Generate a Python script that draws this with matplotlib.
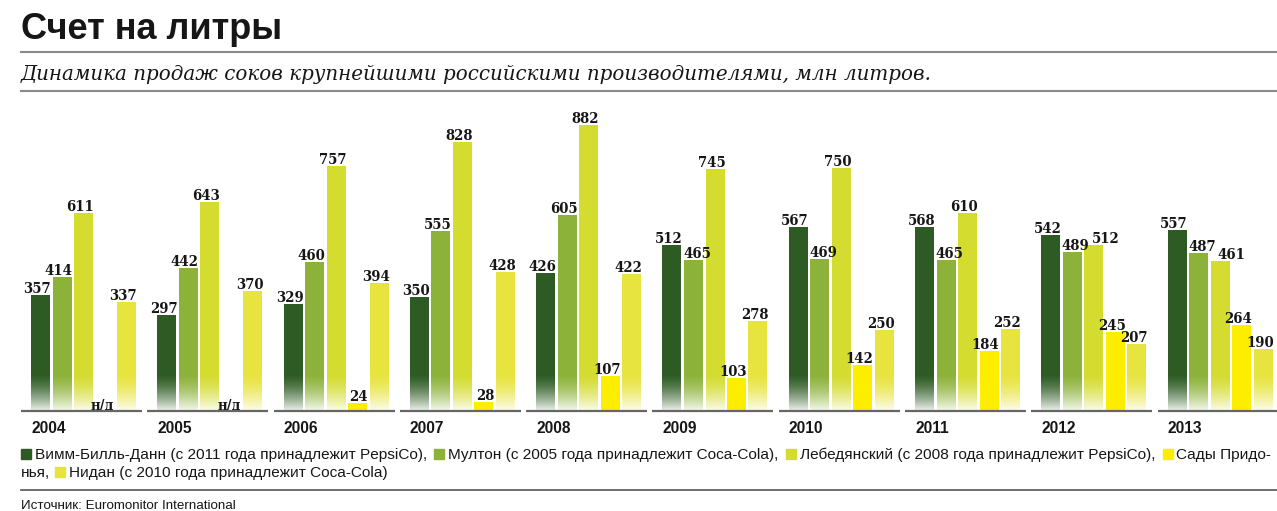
import numpy as np
import matplotlib
matplotlib.use("Agg")
import matplotlib.pyplot as plt
from matplotlib.patches import Rectangle

# данные (млн литров)
years = ['2004', '2005', '2006', '2007', '2008', '2009', '2010', '2011', '2012', '2013']
wbd = [357, 297, 329, 350, 426, 512, 567, 568, 542, 557]
multon = [414, 442, 460, 555, 605, 465, 469, 465, 489, 487]
lebed = [611, 643, 757, 828, 882, 745, 750, 610, 512, 461]
sady = [None, None, 24, 28, 107, 103, 142, 184, 245, 264]
nidan = [337, 370, 394, 428, 422, 278, 250, 252, 207, 190]

series = [wbd, multon, lebed, sady, nidan]
colors = ['#2e5b24', '#8db23a', '#d4dc2f', '#fdee00', '#e8e43f']
fade = [True, True, True, False, True]
legend_names = ['Вимм-Билль-Данн (с 2011 года принадлежит PepsiCo), ',
                'Мултон (с 2005 года принадлежит Coca-Cola), ',
                'Лебедянский (с 2008 года принадлежит PepsiCo), ',
                'Сады Придо-',
                'Нидан (с 2010 года принадлежит Coca-Cola)']

W, H = 1277, 511
fig = plt.figure(figsize=(W / 100, H / 100), dpi=100)
renderer = fig.canvas.get_renderer()

# пиксели -> единицы осей
group_px = 126.3          # шаг между годами
py = 0.3243               # пикселей на 1 млн литров
bar_w = 19 / group_px
bar_step = 21.5 / group_px
base_y = 411              # базовая линия (от верха картинки)
left_px = 21

ax_h_px = 310
ax = fig.add_axes([left_px / W, (H - base_y) / H, (W - left_px) / W, ax_h_px / H])
x0 = (left_px - 31) / group_px
ax.set_xlim(x0, x0 + (W - left_px) / group_px)
ax.set_ylim(0, ax_h_px / py)
ax.axis('off')

fade_h = 38 / py
grad = np.linspace(0, 1, 64)
alpha = 0.92 * (1 - grad) ** 1.5
white = np.ones((64, 1, 4))
white[:, 0, 3] = alpha

val_font = dict(family='DejaVu Serif', fontstretch='condensed', fontweight='bold',
                fontsize=10.6, color='#161616')

for i, year in enumerate(years):
    prev_bb = None
    for k, vals in enumerate(series):
        left = i + k * bar_step
        v = vals[i]
        if v is None:
            ax.text(left + bar_w, 1.5 / py, 'н/д', ha='right', va='baseline', **val_font)
            prev_bb = None
            continue
        ax.bar(left, v, width=bar_w, align='edge', color=colors[k], zorder=2)
        if fade[k]:
            ax.imshow(white, extent=(left, left + bar_w, 0, min(fade_h, v)),
                      origin='lower', aspect='auto', zorder=3, interpolation='bilinear')
        # подпись: по правому краю столбца, но не поверх более высокого зелёного соседа
        prev_v = series[k - 1][i] if k > 0 else None
        if k in (1, 2) and prev_v is not None and prev_v > v + 15:
            t = ax.text(left - 1 / group_px, v + 2 / py, str(v), ha='left', va='baseline',
                        zorder=4, **val_font)
        else:
            t = ax.text(left + bar_w + 1 / group_px, v + 2 / py, str(v), ha='right', va='baseline',
                        zorder=4, **val_font)
        bb = t.get_window_extent(renderer=renderer)
        if (k in (1, 2) and prev_bb is not None and bb.x0 < prev_bb.x1 + 2
                and bb.y0 < prev_bb.y1 and bb.y1 > prev_bb.y0):
            shift = (prev_bb.x1 + 2 - bb.x0) / group_px
            px_, py_ = t.get_position()
            t.set_position((px_ + shift, py_))
            bb = t.get_window_extent(renderer=renderer)
        prev_bb = bb
    # базовая линия группы
    ax.plot([i - 10 / group_px, i + 111 / group_px], [0, 0], color='#666666', lw=1.6,
            solid_capstyle='butt', zorder=5, clip_on=False)
    ax.text(i, -17 / py, year, ha='left', va='center', family='Liberation Sans',
            fontweight='bold', fontsize=11.2, color='#161616', clip_on=False)

ax.set_xlim(x0, x0 + (W - left_px) / group_px)
ax.set_ylim(0, ax_h_px / py)


def fy(y):
    return 1 - y / H


# заголовок и подзаголовок
fig.text(left_px / W, fy(39), 'Счет на литры', ha='left', va='baseline',
         family='Liberation Sans', fontweight='bold', fontsize=26, color='#161616')
fig.text(left_px / W, fy(80), 'Динамика продаж соков крупнейшими российскими производителями, млн литров.',
         ha='left', va='baseline', family='DejaVu Serif', style='italic', fontsize=14.3, color='#161616')
for yy in [52, 91]:
    fig.add_artist(plt.Line2D([left_px / W, 1], [fy(yy), fy(yy)], color='#8a8a8a', lw=1.5))
fig.add_artist(plt.Line2D([left_px / W, 1], [fy(490), fy(490)], color='#555555', lw=1.2))

# легенда в две строки
leg_font = dict(family='Liberation Sans', fontsize=11.1, color='#161616', ha='left', va='baseline')
sq = 10


def put_square(x, base, c):
    fig.add_artist(Rectangle((x / W, fy(base)), sq / W, sq / H, color=c, transform=fig.transFigure))
    return x + sq + 4


def put_text(x, base, s):
    t = fig.text(x / W, fy(base), s, **leg_font)
    bb = t.get_window_extent(renderer=renderer)
    return x + bb.width


x = left_px
line1 = 459
for k in range(4):
    x = put_square(x, line1, colors[k])
    x = put_text(x, line1, legend_names[k]) + 3
line2 = 477
x = put_text(left_px, line2, 'нья,') + 5
x = put_square(x, line2, colors[4])
put_text(x, line2, legend_names[4])

fig.text(left_px / W, fy(509), 'Источник: Euromonitor International', ha='left', va='baseline',
         family='Liberation Sans', fontsize=9.6, color='#161616')

plt.savefig('out.png', dpi=100)
